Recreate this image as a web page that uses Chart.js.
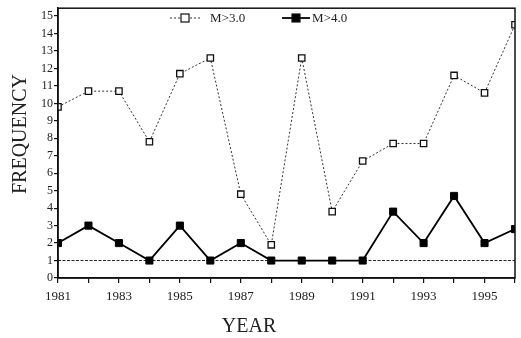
<!DOCTYPE html>
<html>
<head>
<meta charset="utf-8">
<script src="https://cdn.jsdelivr.net/npm/chart.js@4/dist/chart.umd.min.js"></script>
<style>
  html, body { margin: 0; padding: 0; background: #fff; }
  #wrap { width: 521px; height: 338px; }
</style>
</head>
<body>
<div id="wrap"><canvas id="chart" width="521" height="338"></canvas></div>
<script>
// Data
const years = [1981, 1982, 1983, 1984, 1985, 1986, 1987, 1988, 1989, 1990, 1991, 1992, 1993, 1994, 1995, 1996];
const m3 = [9.8, 10.7, 10.7, 7.8, 11.7, 12.6, 4.8, 1.9, 12.6, 3.8, 6.7, 7.7, 7.7, 11.6, 10.6, 14.5];
const m4 = [2, 3, 2, 1, 3, 1, 2, 1, 1, 1, 1, 3.8, 2, 4.7, 2, 2.8];
const baseLine = [1, 1];
const baseYears = [1981, 1996];
const yTicks = [0, 1, 2, 3, 4, 5, 6, 7, 8, 9, 10, 11, 12, 13, 14, 15];
const labels = ["M>3.0", "M>4.0"];
const xTitle = "YEAR";
const yTitle = "FREQUENCY";

const serif = "'Liberation Serif', 'DejaVu Serif', serif";

// Box around the plot, legend inside the plot, axis titles
const frameAndLegend = {
  id: "frameAndLegend",
  afterDraw(chart) {
    const { ctx, chartArea: a } = chart;
    ctx.save();
    ctx.strokeStyle = "#111";
    ctx.lineWidth = 1.5;
    ctx.strokeRect(a.left, a.top, a.right - a.left, a.bottom - a.top);

    const items = [
      { ds: chart.data.datasets[0], x: 170, w: 30, gap: 10 },
      { ds: chart.data.datasets[1], x: 282, w: 28, gap: 2 }
    ];
    const y = 18;
    items.forEach(it => {
      const ds = it.ds;
      ctx.strokeStyle = ds.borderColor;
      ctx.lineWidth = ds.borderWidth;
      ctx.setLineDash(ds.borderDash || []);
      ctx.beginPath();
      ctx.moveTo(it.x, y);
      ctx.lineTo(it.x + it.w, y);
      ctx.stroke();
      ctx.setLineDash([]);
      const s = 8;
      ctx.fillStyle = ds.pointBackgroundColor;
      ctx.fillRect(it.x + it.w / 2 - s / 2, y - s / 2, s, s);
      ctx.lineWidth = 1.2;
      ctx.strokeStyle = "#111";
      ctx.strokeRect(it.x + it.w / 2 - s / 2, y - s / 2, s, s);
      ctx.fillStyle = "#222";
      ctx.font = "13px " + serif;
      ctx.textBaseline = "middle";
      ctx.fillText(ds.label, it.x + it.w + it.gap, y + 1);
    });

    // axis titles
    ctx.fillStyle = "#222";
    ctx.font = "20px " + serif;
    ctx.textAlign = "center";
    ctx.textBaseline = "middle";
    ctx.fillText(xTitle, 249, 327);
    ctx.translate(21, 134);
    ctx.rotate(-Math.PI / 2);
    ctx.fillText(yTitle, 0, 0);
    ctx.restore();
  }
};

new Chart(document.getElementById("chart"), {
  type: "line",
  data: {
    datasets: [
      {
        label: labels[0],
        data: years.map((yr, i) => ({ x: yr, y: m3[i] })),
        borderColor: "#333",
        borderWidth: 1,
        borderDash: [2, 2],
        pointStyle: "rect",
        pointRadius: 4.5,
        pointBackgroundColor: "#fff",
        pointBorderColor: "#111",
        pointBorderWidth: 1.3,
        tension: 0
      },
      {
        label: labels[1],
        data: years.map((yr, i) => ({ x: yr, y: m4[i] })),
        borderColor: "#000",
        borderWidth: 1.8,
        pointStyle: "rect",
        pointRadius: 5,
        pointBackgroundColor: "#000",
        pointBorderColor: "#000",
        pointBorderWidth: 1,
        tension: 0
      },
      {
        label: "base",
        data: baseYears.map((yr, i) => ({ x: yr, y: baseLine[i] })),
        borderColor: "#222",
        borderWidth: 1,
        borderDash: [3, 1.5],
        pointRadius: 0
      }
    ]
  },
  options: {
    responsive: false,
    animation: false,
    layout: { padding: { left: 8, right: 5, top: 2, bottom: 0 } },
    plugins: { legend: { display: false }, tooltip: { enabled: false } },
    scales: {
      x: {
        type: "linear",
        min: 1981,
        max: 1996,
        afterBuildTicks(scale) {
          scale.ticks = years.map(v => ({ value: v }));
        },
        afterFit(scale) { scale.height = 60; },
        grid: { drawOnChartArea: false, drawTicks: true, tickLength: 5, color: "#111", lineWidth: 1.2 },
        border: { display: true, color: "#111", width: 1.5 },
        ticks: {
          autoSkip: false,
          maxRotation: 0,
          padding: 6,
          color: "#222",
          font: { family: serif, size: 13 },
          callback: v => (v % 2 === 1 && v < 1996) ? String(v) : ""
        },
        title: { display: false }
      },
      y: {
        min: 0,
        max: 15.45,
        afterBuildTicks(scale) {
          scale.ticks = yTicks.map(v => ({ value: v }));
        },
        afterFit(scale) { scale.width = 50; },
        grid: { drawOnChartArea: false, drawTicks: true, tickLength: 4, color: "#111", lineWidth: 1.2 },
        border: { display: true, color: "#111", width: 1.5 },
        ticks: {
          padding: 1,
          color: "#222",
          font: { family: serif, size: 12 }
        },
        title: { display: false }
      }
    }
  },
  plugins: [frameAndLegend]
});
</script>
</body>
</html>
